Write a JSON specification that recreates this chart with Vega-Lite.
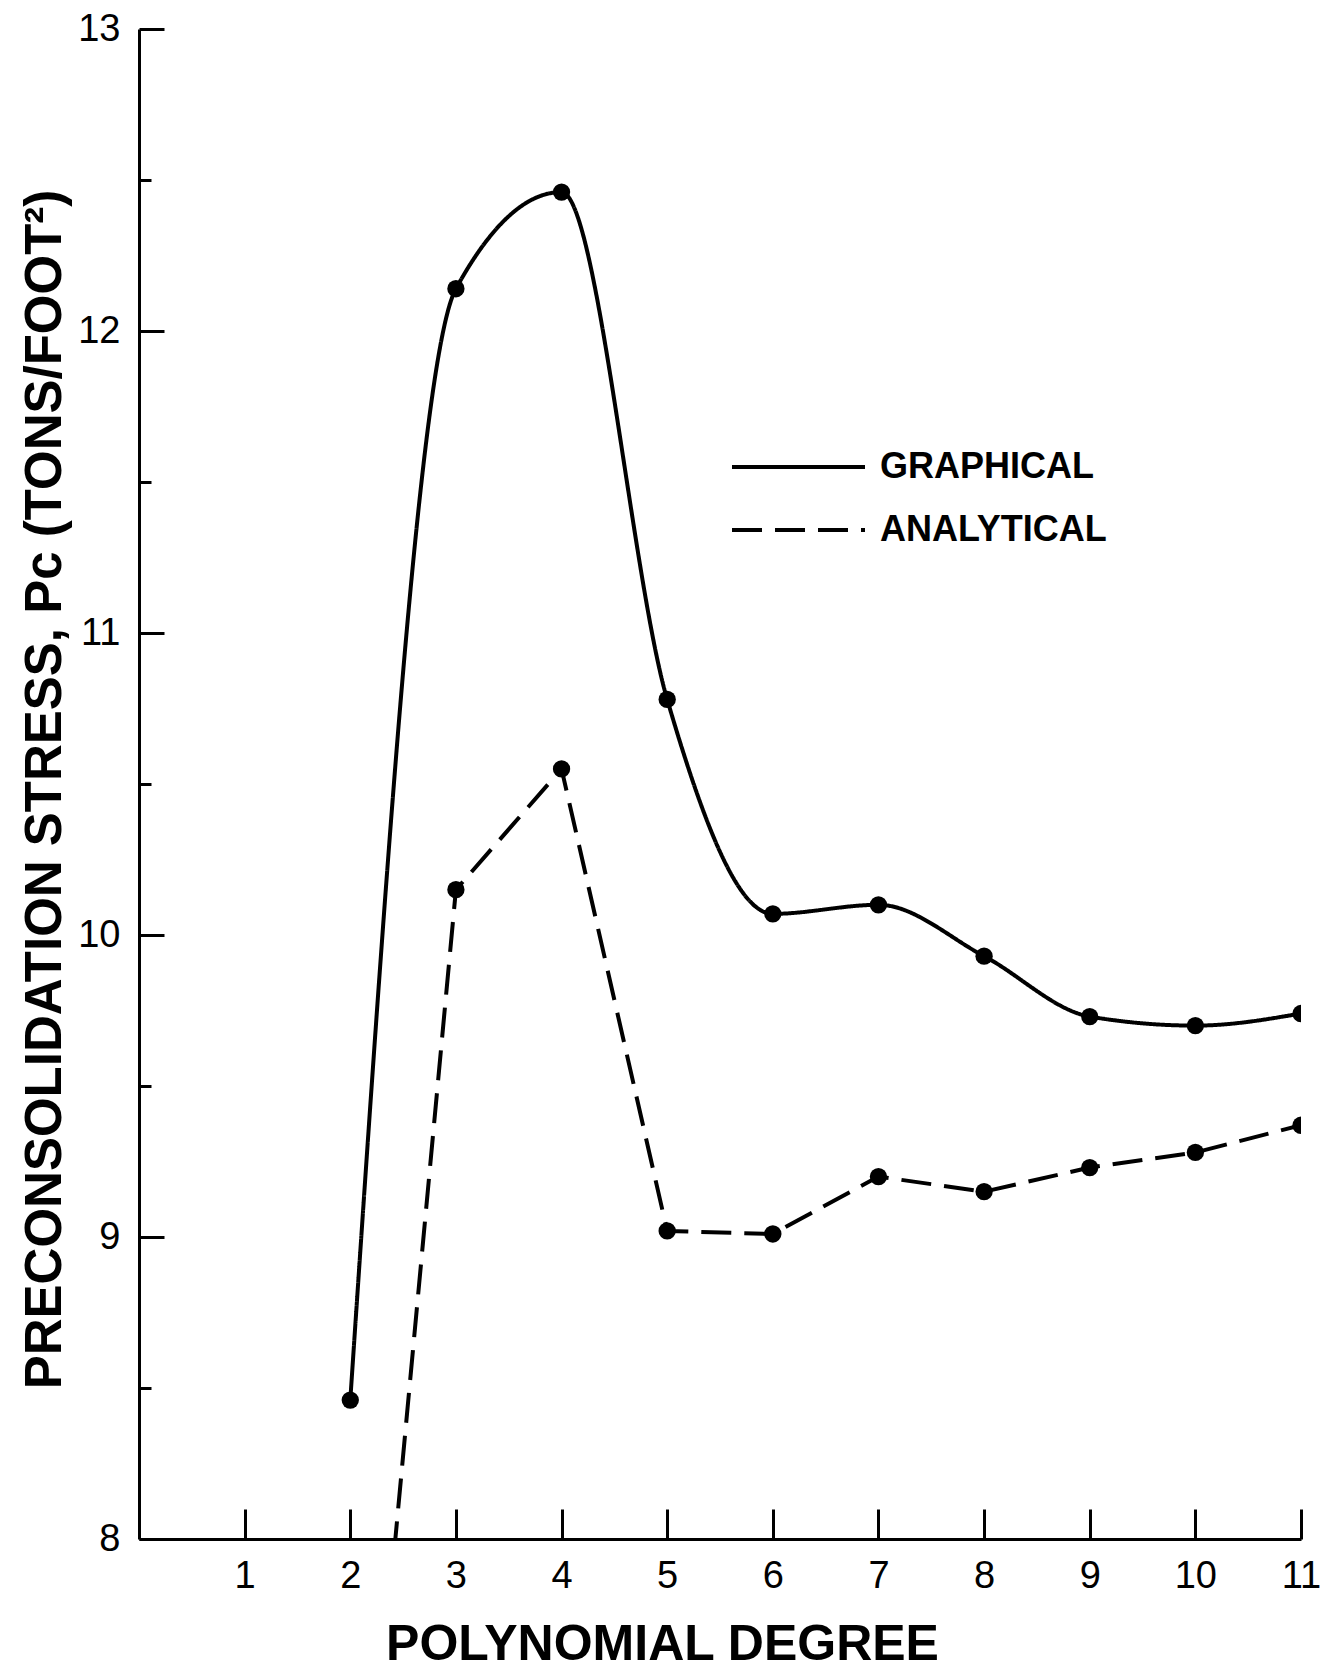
{
  "$schema": "https://vega.github.io/schema/vega-lite/v6.json",
  "width": 1162,
  "height": 1510,
  "autosize": {"type": "none"},
  "padding": {"left": 139, "top": 29, "right": 24, "bottom": 134},
  "background": "white",
  "config": {"view": {"stroke": null}, "font": "Liberation Sans"},
  "data": {
    "values": [
      {"degree": 2, "method": "GRAPHICAL", "stress": 8.46},
      {"degree": 3, "method": "GRAPHICAL", "stress": 12.14},
      {"degree": 4, "method": "GRAPHICAL", "stress": 12.46},
      {"degree": 5, "method": "GRAPHICAL", "stress": 10.78},
      {"degree": 6, "method": "GRAPHICAL", "stress": 10.07},
      {"degree": 7, "method": "GRAPHICAL", "stress": 10.10},
      {"degree": 8, "method": "GRAPHICAL", "stress": 9.93},
      {"degree": 9, "method": "GRAPHICAL", "stress": 9.73},
      {"degree": 10, "method": "GRAPHICAL", "stress": 9.70},
      {"degree": 11, "method": "GRAPHICAL", "stress": 9.74},
      {"degree": 2, "method": "ANALYTICAL", "stress": 6.4},
      {"degree": 3, "method": "ANALYTICAL", "stress": 10.15},
      {"degree": 4, "method": "ANALYTICAL", "stress": 10.55},
      {"degree": 5, "method": "ANALYTICAL", "stress": 9.02},
      {"degree": 6, "method": "ANALYTICAL", "stress": 9.01},
      {"degree": 7, "method": "ANALYTICAL", "stress": 9.20},
      {"degree": 8, "method": "ANALYTICAL", "stress": 9.15},
      {"degree": 9, "method": "ANALYTICAL", "stress": 9.23},
      {"degree": 10, "method": "ANALYTICAL", "stress": 9.28},
      {"degree": 11, "method": "ANALYTICAL", "stress": 9.37}
    ]
  },
  "encoding": {
    "x": {
      "field": "degree",
      "type": "quantitative",
      "scale": {"domain": [0, 11], "nice": false},
      "axis": {
        "values": [1, 2, 3, 4, 5, 6, 7, 8, 9, 10, 11],
        "format": "d",
        "title": "POLYNOMIAL DEGREE",
        "grid": false,
        "tickSize": -30,
        "tickWidth": 3,
        "tickColor": "black",
        "domainColor": "black",
        "domainWidth": 3,
        "labelFont": "Liberation Sans",
        "labelFontSize": 38,
        "labelColor": "black",
        "labelPadding": 48,
        "labelFlush": false,
        "titleFont": "Liberation Sans",
        "titleFontSize": 50,
        "titleFontWeight": "bold",
        "titleColor": "black",
        "titleX": 523,
        "titleY": 105,
        "titleAlign": "center",
        "titleBaseline": "middle"
      }
    },
    "y": {
      "field": "stress",
      "type": "quantitative",
      "scale": {"domain": [8, 13], "nice": false, "zero": false},
      "axis": {
        "values": [8, 8.5, 9, 9.5, 10, 10.5, 11, 11.5, 12, 12.5, 13],
        "labelExpr": "datum.value % 1 === 0 ? format(datum.value, 'd') : ''",
        "title": "PRECONSOLIDATION STRESS, Pc (TONS/FOOT²)",
        "grid": false,
        "tickSize": {"condition": {"test": "datum.value % 1 === 0", "value": -25}, "value": -12},
        "tickWidth": 3,
        "tickColor": "black",
        "domainColor": "black",
        "domainWidth": 3,
        "labelFont": "Liberation Sans",
        "labelFontSize": 38,
        "labelColor": "black",
        "labelPadding": 44,
        "labelFlush": false,
        "titleFont": "Liberation Sans",
        "titleFontSize": 51,
        "titleFontWeight": "bold",
        "titleColor": "black",
        "titleX": -94,
        "titleY": 760,
        "titleAngle": -90,
        "titleAlign": "center",
        "titleBaseline": "middle"
      }
    }
  },
  "layer": [
    {
      "transform": [{"filter": "datum.method === 'GRAPHICAL'"}],
      "mark": {"type": "line", "interpolate": "monotone", "clip": true, "color": "black", "strokeWidth": 4},
      "encoding": {
        "strokeDash": {
          "field": "method",
          "type": "nominal",
          "scale": {"domain": ["GRAPHICAL", "ANALYTICAL"], "range": [[1, 0], [30, 13]]},
          "legend": {
            "orient": "none",
            "legendX": 591,
            "legendY": 418,
            "title": null,
            "symbolType": "stroke",
            "symbolSize": 17689,
            "symbolStrokeWidth": 4,
            "symbolStrokeColor": "black",
            "labelFont": "Liberation Sans",
            "labelFontSize": 36,
            "labelFontWeight": "bold",
            "labelColor": "black",
            "labelLimit": 500,
            "labelOffset": 13,
            "clipHeight": 40,
            "rowPadding": 23
          }
        }
      }
    },
    {
      "transform": [{"filter": "datum.method === 'ANALYTICAL'"}],
      "mark": {"type": "line", "interpolate": "linear", "clip": true, "color": "black", "strokeWidth": 4},
      "encoding": {
        "strokeDash": {"field": "method", "type": "nominal"}
      }
    },
    {
      "mark": {"type": "point", "filled": true, "color": "black", "opacity": 1, "size": 300, "clip": true}
    }
  ]
}
